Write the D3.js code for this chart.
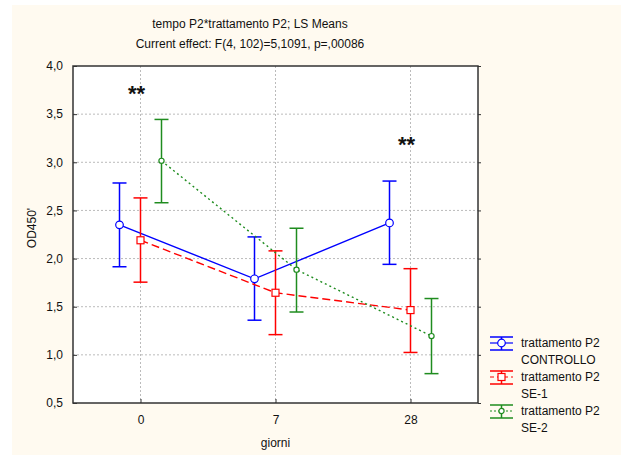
<!DOCTYPE html>
<html>
<head>
<meta charset="utf-8">
<script src="https://cdn.jsdelivr.net/npm/d3@7"></script>
<style>
  body { margin: 0; background: #fff; }
  text { font-family: "Liberation Sans", Arial, sans-serif; }
</style>
</head>
<body>
<div id="plot"></div>
<script>
var days = ["0", "7", "28"];
var yTicks = [0.5, 1.0, 1.5, 2.0, 2.5, 3.0, 3.5, 4.0];
var titleLines = ["tempo P2*trattamento P2; LS Means", "Current effect: F(4, 102)=5,1091, p=,00086"];

var controllo = [2.35, 1.79, 2.37];
var controlloLo = [1.915, 1.36, 1.94];
var controlloHi = [2.785, 2.225, 2.805];

var se1 = [2.19, 1.645, 1.465];
var se1Lo = [1.755, 1.21, 1.025];
var se1Hi = [2.63, 2.08, 1.895];

var se2 = [3.015, 1.885, 1.195];
var se2Lo = [2.58, 1.445, 0.805];
var se2Hi = [3.445, 2.315, 1.585];

var starDays = ["0", "28"];
var starValues = [3.73, 3.2];

var W = 621, H = 461
    , margin = { top: 66, right: 143, bottom: 58, left: 73 }
    , width = W - margin.left - margin.right
    , height = H - margin.top - margin.bottom;

var series = [
    { name: ["trattamento P2", "CONTROLLO"], mean: controllo, lo: controlloLo, hi: controlloHi,
      color: "#0000ff", dash: null, marker: "circle", off: -21 },
    { name: ["trattamento P2", "SE-1"], mean: se1, lo: se1Lo, hi: se1Hi,
      color: "#ff0000", dash: "8,4", marker: "square", off: 0 },
    { name: ["trattamento P2", "SE-2"], mean: se2, lo: se2Lo, hi: se2Hi,
      color: "#1f8c1f", dash: "2,3", marker: "small", off: 21 }
];

var svg = d3.select("#plot").append("svg")
    .attr("width", W)
    .attr("height", H);

// cream page
svg.append("rect").attr("x", 12).attr("y", 5).attr("width", W - 12).attr("height", 450)
    .attr("fill", "#fffaf0");

var xScale = d3.scalePoint().domain(days).range([0, width]).padding(0.5);
var yScale = d3.scaleLinear().domain([0.5, 4.0]).range([height, 0]);

var g = svg.append("g").attr("transform", "translate(" + margin.left + "," + margin.top + ")");

g.append("rect").attr("width", width).attr("height", height).attr("fill", "#fff");

// grid
g.append("g").selectAll("line").data(yTicks.slice(1, -1)).enter().append("line")
    .attr("x1", 0).attr("x2", width)
    .attr("y1", function (d) { return yScale(d); })
    .attr("y2", function (d) { return yScale(d); })
    .attr("stroke", "#bbb").attr("stroke-dasharray", "2,2");
g.append("g").selectAll("line").data(days).enter().append("line")
    .attr("y1", 0).attr("y2", height)
    .attr("x1", function (d) { return xScale(d); })
    .attr("x2", function (d) { return xScale(d); })
    .attr("stroke", "#bbb").attr("stroke-dasharray", "2,2");

var fmt = function (d) { return d3.format(".1f")(d).replace(".", ","); };

var yAxis = g.append("g").call(d3.axisLeft(yScale).tickValues(yTicks).tickFormat(fmt).tickSizeInner(-4).tickSizeOuter(0).tickPadding(10));
var yAxisR = g.append("g").attr("transform", "translate(" + width + ",0)")
    .call(d3.axisRight(yScale).tickValues(yTicks).tickFormat("").tickSizeInner(3).tickSizeOuter(0));
var xAxis = g.append("g").attr("transform", "translate(0," + height + ")")
    .call(d3.axisBottom(xScale).tickSizeInner(-4).tickSizeOuter(0).tickPadding(12));
[yAxis, yAxisR, xAxis].forEach(function (a) {
    a.select(".domain").remove();
    a.selectAll("line").attr("stroke", "#333");
    a.selectAll("text").attr("font-size", 12).attr("fill", "#111")
        .style("font-family", "Liberation Sans, Arial, sans-serif");
});

g.append("rect").attr("width", width).attr("height", height)
    .attr("fill", "none").attr("stroke", "#333").attr("stroke-width", 1.5);

// series
series.forEach(function (s) {
    var px = function (i) { return xScale(days[i]) + s.off; };
    var line = d3.line().x(function (d, i) { return px(i); }).y(function (d) { return yScale(d); });
    g.append("path").datum(s.mean).attr("d", line)
        .attr("fill", "none").attr("stroke", s.color).attr("stroke-width", 1.4)
        .attr("stroke-dasharray", s.dash);

    var eb = g.append("g").attr("stroke", s.color).attr("stroke-width", 1.5);
    s.mean.forEach(function (m, i) {
        var x = px(i);
        eb.append("line").attr("x1", x).attr("x2", x).attr("y1", yScale(s.lo[i])).attr("y2", yScale(s.hi[i]));
        eb.append("line").attr("x1", x - 7).attr("x2", x + 7).attr("y1", yScale(s.lo[i])).attr("y2", yScale(s.lo[i]));
        eb.append("line").attr("x1", x - 7).attr("x2", x + 7).attr("y1", yScale(s.hi[i])).attr("y2", yScale(s.hi[i]));
    });
    s.mean.forEach(function (m, i) {
        drawMarker(g, s, px(i), yScale(m));
    });
});

function drawMarker(sel, s, x, y) {
    if (s.marker == "square") {
        sel.append("rect").attr("x", x - 3.5).attr("y", y - 3.5).attr("width", 7).attr("height", 7)
            .attr("fill", "#fff").attr("stroke", s.color).attr("stroke-width", 1.2);
    } else {
        sel.append("circle").attr("cx", x).attr("cy", y).attr("r", s.marker == "circle" ? 3.8 : 2.6)
            .attr("fill", "#fff").attr("stroke", s.color).attr("stroke-width", 1.2);
    }
}

// significance stars
g.append("g").selectAll("text").data(starDays).enter().append("text")
    .attr("x", function (d) { return xScale(d) - 4; })
    .attr("y", function (d, i) { return yScale(starValues[i]) + 9; })
    .attr("text-anchor", "middle").attr("font-size", 22).attr("font-weight", "bold")
    .attr("fill", "#111")
    .text("**");

// titles
svg.append("g").selectAll("text").data(titleLines).enter().append("text")
    .attr("x", 250).attr("y", function (d, i) { return 28 + i * 20; })
    .attr("text-anchor", "middle").attr("font-size", 12).attr("fill", "#111")
    .text(function (d) { return d; });

svg.append("text").attr("x", margin.left + width / 2).attr("y", 447)
    .attr("text-anchor", "middle").attr("font-size", 12).attr("fill", "#111").text("giorni");

svg.append("text").attr("transform", "translate(36,228) rotate(-90)")
    .attr("text-anchor", "middle").attr("font-size", 12).attr("fill", "#111").text("OD450'");

// legend
var leg = svg.append("g").attr("transform", "translate(490,343)");
series.forEach(function (s, k) {
    var row = leg.append("g").attr("transform", "translate(0," + (k * 34) + ")");
    row.append("line").attr("x1", 0).attr("x2", 23).attr("y1", 0).attr("y2", 0)
        .attr("stroke", s.color).attr("stroke-width", 1.2).attr("stroke-dasharray", s.dash ? (s.dash == "8,4" ? "4,3" : "2,2") : null);
    row.append("line").attr("x1", 0).attr("x2", 23).attr("y1", -6).attr("y2", -6).attr("stroke", s.color).attr("stroke-width", 1.5);
    row.append("line").attr("x1", 0).attr("x2", 23).attr("y1", 7).attr("y2", 7).attr("stroke", s.color).attr("stroke-width", 1.5);
    row.append("line").attr("x1", 11.5).attr("x2", 11.5).attr("y1", -6).attr("y2", 7).attr("stroke", s.color).attr("stroke-width", 1.5);
    drawMarker(row, s, 11.5, 0);
    row.selectAll("text.l").data(s.name).enter().append("text")
        .attr("x", 31).attr("y", function (d, i) { return 4 + i * 17; })
        .attr("font-size", 12).attr("fill", "#111")
        .text(function (d) { return d; });
});
</script>
</body>
</html>
